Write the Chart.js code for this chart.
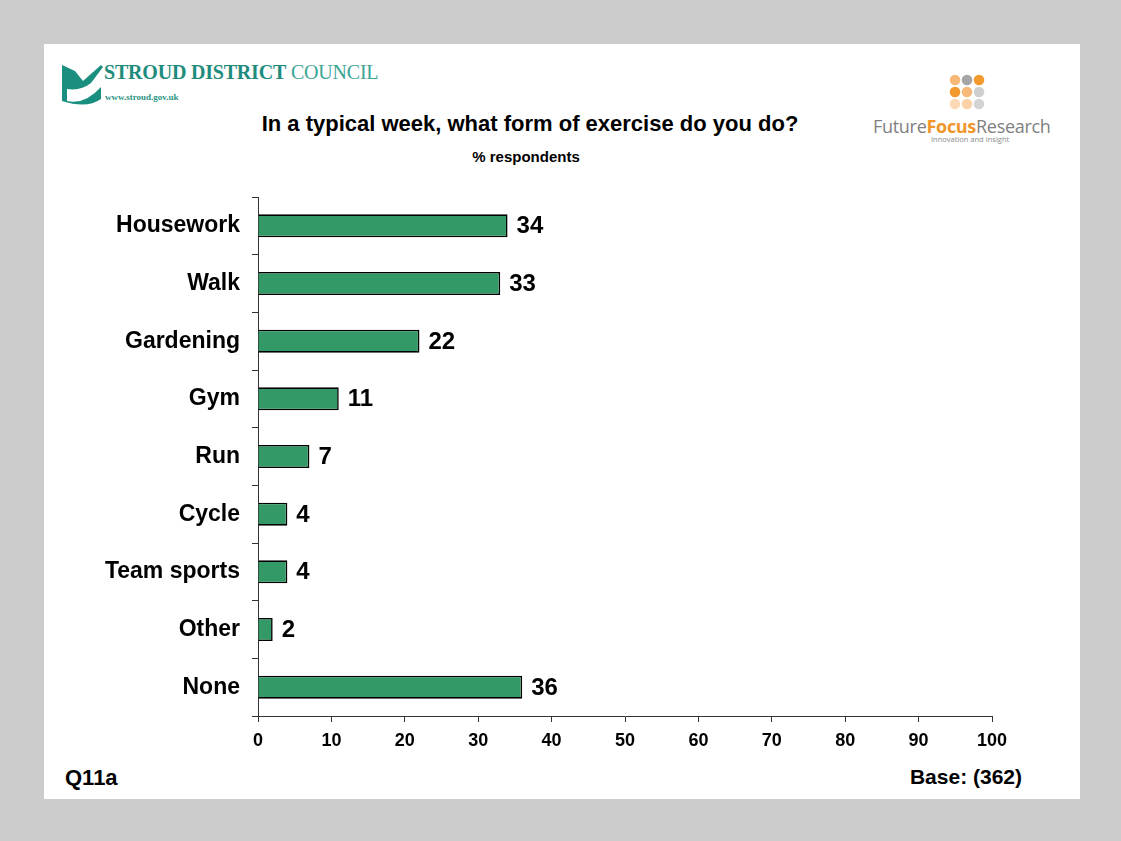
<!DOCTYPE html>
<html>
<head>
<meta charset="utf-8">
<script src="https://cdn.jsdelivr.net/npm/chart.js@4.4.1/dist/chart.umd.min.js"></script>
<style>
  html, body { margin: 0; padding: 0; }
  body { width: 1121px; height: 841px; background: #cccccc; position: relative; overflow: hidden;
         font-family: "Liberation Sans", Arial, sans-serif; }
  #panel { position: absolute; left: 44px; top: 44px; width: 1036px; height: 755px; background: #ffffff; }
  #chart { position: absolute; left: 0; top: 0; }
  .txt { position: absolute; white-space: nowrap; font-weight: bold; color: #000; }
  #title { left: 0; width: 972px; text-align: center; top: 67px; font-size: 22px; }
  #subtitle { left: 0; width: 964px; text-align: center; top: 104px; font-size: 15px; }
  #qref { left: 21px; top: 721px; font-size: 22px; }
  #base { right: 58px; top: 721px; font-size: 21px; }
  #sdc { position: absolute; left: 17px; top: 17px; }
  #sdc-name { position: absolute; left: 60px; top: 17px; font-family: "Liberation Serif", "DejaVu Serif", serif;
              font-size: 20px; color: #1e8b7d; white-space: nowrap; letter-spacing: -0.2px; }
  #sdc-name b { font-weight: bold; }
  #sdc-name span { color: #3aa595; }
  #sdc-url { position: absolute; left: 61px; top: 48px; font-family: "Liberation Serif", serif;
             font-size: 9px; font-weight: bold; color: #2a9484; white-space: nowrap; }
  #ffr-dots { position: absolute; left: 904px; top: 30px; }
  #ffr-name { position: absolute; left: 829px; top: 71px; font-family: "Open Sans", sans-serif;
              font-size: 18px; color: #808080; white-space: nowrap; letter-spacing: -0.3px; line-height: 22px; }
  #ffr-name b { color: #f0962a; }
  #ffr-tag { position: absolute; left: 887px; top: 90px; font-family: "Open Sans", sans-serif;
             font-size: 7.5px; color: #8a8a8a; white-space: nowrap; line-height: 10px; }
</style>
</head>
<body>
<div id="panel">
  <svg id="sdc" width="44" height="44" viewBox="0 0 44 44">
    <path d="M1 4 L14 10 L22 20 L40 4 L42 6 L30 22 Q20 30 6 28 L6 40 Q24 44 40 26 L40 38 Q26 48 1 40 Z" fill="#1a8e7f"/>
  </svg>
  <div id="sdc-name"><b>STROUD DISTRICT</b> <span>COUNCIL</span></div>
  <div id="sdc-url">www.stroud.gov.uk</div>
  <svg id="ffr-dots" width="40" height="38" viewBox="0 0 40 38"></svg>
  <div id="ffr-name">Future<b>Focus</b>Research</div>
  <div id="ffr-tag">Innovation and Insight</div>
  <div id="title" class="txt">In a typical week, what form of exercise do you do?</div>
  <div id="subtitle" class="txt">% respondents</div>
  <div id="qref" class="txt">Q11a</div>
  <div id="base" class="txt">Base: (362)</div>
  <canvas id="chart" width="1036" height="755"></canvas>
</div>
<script>
// Exercise types and the share of respondents doing each
const categories = ['Housework', 'Walk', 'Gardening', 'Gym', 'Run', 'Cycle', 'Team sports', 'Other', 'None'];
const percentValues = [34, 33, 22, 11, 7, 4, 4, 2, 36];
const axisTicks = [0, 10, 20, 30, 40, 50, 60, 70, 80, 90, 100];

// Logo dot grid (3 x 3)
const dotColours = ['#f7b878', '#a6a6a6', '#f29a2e',
                    '#f29a2e', '#f7b878', '#cfcfcf',
                    '#fbd9b6', '#fbd2a8', '#d4d4d4'];
(function drawDots() {
  const svg = document.getElementById('ffr-dots');
  dotColours.forEach((c, i) => {
    const cx = 7 + (i % 3) * 12, cy = 6 + Math.floor(i / 3) * 12;
    const el = document.createElementNS('http://www.w3.org/2000/svg', 'circle');
    el.setAttribute('cx', cx); el.setAttribute('cy', cy); el.setAttribute('r', 5.3);
    el.setAttribute('fill', c);
    svg.appendChild(el);
  });
})();

const FONT = '"Liberation Sans", Arial, sans-serif';

// Value labels at the end of each bar
const valueLabels = {
  id: 'valueLabels',
  afterDatasetsDraw(chart) {
    const ctx = chart.ctx;
    const meta = chart.getDatasetMeta(0);
    ctx.save();
    ctx.font = 'bold 24px ' + FONT;
    ctx.fillStyle = '#000';
    ctx.textAlign = 'left';
    ctx.textBaseline = 'middle';
    meta.data.forEach((bar, i) => {
      ctx.fillText(String(percentValues[i]), bar.x + 9, bar.y + 1);
    });
    ctx.restore();
  }
};

new Chart(document.getElementById('chart'), {
  type: 'bar',
  data: {
    labels: categories,
    datasets: [{
      data: percentValues,
      backgroundColor: '#339966',
      borderColor: '#000',
      borderWidth: 1.6,
      barPercentage: 0.4,
      categoryPercentage: 1
    }]
  },
  options: {
    indexAxis: 'y',
    responsive: false,
    animation: false,
    devicePixelRatio: 1,
    layout: { padding: { top: 153, right: 88, left: 0, bottom: 0 } },
    plugins: { legend: { display: false }, tooltip: { enabled: false } },
    scales: {
      x: {
        min: 0, max: 100,
        afterFit(scale) { scale.height = 83; },
        afterBuildTicks(scale) { scale.ticks = axisTicks.map(v => ({ value: v })); },
        ticks: { color: '#000', font: { family: FONT, size: 18, weight: 'bold' }, padding: 8, maxRotation: 0 },
        grid: { drawOnChartArea: false, drawTicks: true, tickLength: 6, color: '#333', lineWidth: 1 },
        border: { display: true, color: '#333', width: 1 }
      },
      y: {
        afterFit(scale) { scale.width = 214; },
        ticks: { color: '#000', font: { family: FONT, size: 23, weight: 'bold' }, padding: 12 },
        grid: { offset: true, drawOnChartArea: false, drawTicks: true, tickLength: 6, color: '#333', lineWidth: 1 },
        border: { display: true, color: '#333', width: 1 }
      }
    }
  },
  plugins: [valueLabels]
});
</script>
</body>
</html>
